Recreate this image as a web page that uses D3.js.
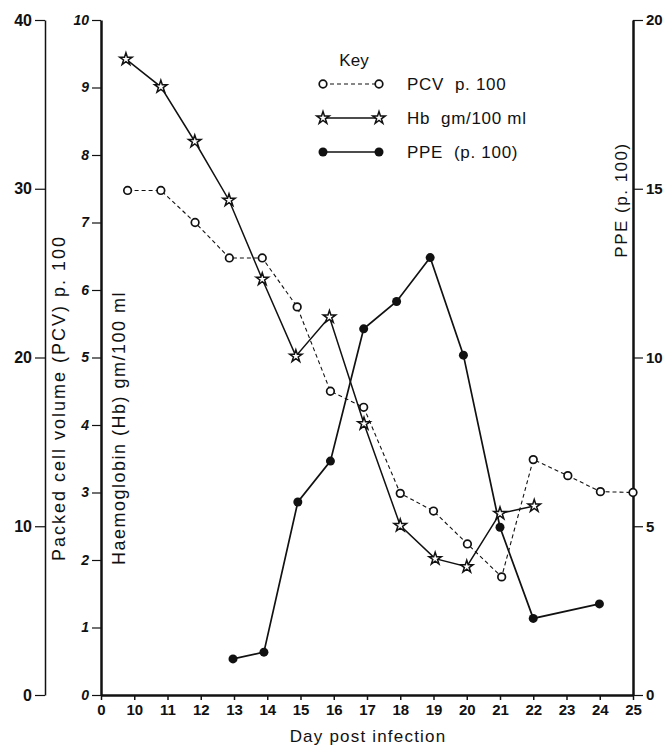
<!DOCTYPE html>
<html>
<head>
<meta charset="utf-8">
<script src="https://d3js.org/d3.v7.min.js"></script>
<style>
  body { margin: 0; background: #fff; }
  svg { display: block; font-family: "Liberation Sans", Arial, sans-serif; }
  .ax path, .ax line { stroke: #111; }
  .ax text { fill: #111; }
</style>
</head>
<body>
<div class="chart"></div>
<script>
// Day post infection (axis is broken: position 9 is labelled "0")
var dayTicks = [9, 10, 11, 12, 13, 14, 15, 16, 17, 18, 19, 20, 21, 22, 23, 24, 25];

// PCV p. 100 (left outer axis)
var pcvDays = [9.8, 10.8, 11.83, 12.86, 13.85, 14.9, 15.9, 16.9, 18, 19, 20.02, 21.05, 22, 23.04, 24.02, 25];
var pcvValues = [29.9, 29.9, 28.0, 25.9, 25.9, 23.0, 18.0, 17.05, 11.95, 10.9, 8.95, 7.0, 13.95, 13.0, 12.05, 12.0];
var pcvTicks = [0, 10, 20, 30, 40];

// Hb gm/100 ml (left inner axis)
var hbDays = [9.75, 10.8, 11.82, 12.85, 13.85, 14.86, 15.87, 16.91, 18, 19.05, 20, 21, 22.03];
var hbValues = [9.42, 9.01, 8.2, 7.33, 6.16, 5.02, 5.6, 4.02, 2.51, 2.02, 1.9, 2.69, 2.8];
var hbTicks = [0, 1, 2, 3, 4, 5, 6, 7, 8, 9, 10];

// PPE (p. 100) (right axis)
var ppeDays = [12.97, 13.9, 14.92, 15.9, 16.9, 17.89, 18.9, 19.9, 21.0, 22.0, 23.99];
var ppeValues = [1.07, 1.27, 5.72, 6.93, 10.85, 11.66, 12.96, 10.07, 4.97, 2.27, 2.7];
var ppeTicks = [0, 5, 10, 15, 20];

var keyLabels = ['PCV  p. 100', 'Hb  gm/100 ml', 'PPE  (p. 100)'];

var w = 669, h = 746;
var plotLeft = 101, plotRight = 633, plotTop = 20, plotBottom = 695;
var pcvAxisX = 45;

var svg = d3.select('.chart').append('svg')
    .attr('width', w)
    .attr('height', h);

var x = d3.scaleLinear().domain([9, 25]).range([plotLeft, plotRight]);
var yPcv = d3.scaleLinear().domain([0, 40]).range([plotBottom, plotTop]);
var yHb = d3.scaleLinear().domain([0, 10]).range([plotBottom, plotTop]);
var yPpe = d3.scaleLinear().domain([0, 20]).range([plotBottom, plotTop]);

// PCV axis
var gPcv = svg.append('g').attr('class', 'ax')
    .attr('transform', 'translate(' + pcvAxisX + ',0)')
    .call(d3.axisLeft(yPcv).tickValues(pcvTicks).tickSize(10).tickSizeOuter(0).tickPadding(3));
gPcv.select('.domain').attr('stroke-width', 1.5);
gPcv.selectAll('.tick line').attr('stroke-width', 1.2);
gPcv.selectAll('text').attr('font-size', 16).attr('font-weight', 'bold')
    .attr('font-family', '"Liberation Sans Narrow", "Liberation Sans", Arial, sans-serif');

// Hb axis
var gHb = svg.append('g').attr('class', 'ax')
    .attr('transform', 'translate(' + plotLeft + ',0)')
    .call(d3.axisLeft(yHb).tickValues(hbTicks).tickSize(9).tickSizeOuter(0).tickPadding(3));
gHb.select('.domain').attr('stroke-width', 2.5);
gHb.selectAll('.tick line').attr('stroke-width', 1.2);
gHb.selectAll('text').attr('font-size', 14).attr('font-weight', 'bold').attr('font-style', 'italic')
    .attr('font-family', '"Liberation Sans Narrow", "Liberation Sans", Arial, sans-serif');

// PPE axis
var gPpe = svg.append('g').attr('class', 'ax')
    .attr('transform', 'translate(' + plotRight + ',0)')
    .call(d3.axisRight(yPpe).tickValues(ppeTicks).tickSize(10).tickSizeOuter(0).tickPadding(3));
gPpe.select('.domain').attr('stroke-width', 2.5);
gPpe.selectAll('.tick line').attr('stroke-width', 1.2);
gPpe.selectAll('text').attr('font-size', 15).attr('font-weight', 'bold');

// Day axis
var gX = svg.append('g').attr('class', 'ax')
    .attr('transform', 'translate(0,' + plotBottom + ')')
    .call(d3.axisBottom(x).tickValues(dayTicks).tickSize(5).tickSizeOuter(0).tickPadding(4)
        .tickFormat(function (d) { return d === 9 ? '0' : d; }));
gX.select('.domain').attr('stroke-width', 2.5);
gX.selectAll('.tick line').attr('stroke-width', 1.5);
gX.selectAll('text').attr('font-size', 15).attr('font-weight', 'bold')
    .attr('font-family', '"Liberation Sans Narrow", "Liberation Sans", Arial, sans-serif');

// Axis titles
svg.append('text')
    .text('Packed cell volume (PCV) p. 100')
    .attr('transform', 'translate(59,398) rotate(-90)')
    .attr('dy', '0.35em')
    .attr('text-anchor', 'middle')
    .attr('font-size', 18)
    .attr('letter-spacing', 2)
    .attr('fill', '#111');

svg.append('text')
    .text('Haemoglobin (Hb) gm/100 ml')
    .attr('transform', 'translate(119,428) rotate(-90)')
    .attr('dy', '0.35em')
    .attr('text-anchor', 'middle')
    .attr('font-size', 18)
    .attr('letter-spacing', 1.5)
    .attr('fill', '#111');

svg.append('text')
    .text('PPE (p. 100)')
    .attr('transform', 'translate(621,200) rotate(-90)')
    .attr('dy', '0.35em')
    .attr('text-anchor', 'middle')
    .attr('font-size', 17)
    .attr('letter-spacing', 1.5)
    .attr('fill', '#111');

svg.append('text')
    .text('Day post infection')
    .attr('x', 368)
    .attr('y', 742)
    .attr('text-anchor', 'middle')
    .attr('font-size', 17)
    .attr('letter-spacing', 1.2)
    .attr('fill', '#111');

var star = d3.symbol().type(d3.symbolStar).size(48);

// PCV line + open circles
var pcvData = d3.zip(pcvDays, pcvValues);
svg.append('path')
    .datum(pcvData)
    .attr('fill', 'none')
    .attr('stroke', '#111')
    .attr('stroke-width', 1.1)
    .attr('stroke-dasharray', '4,3')
    .attr('d', d3.line().x(function (d) { return x(d[0]); }).y(function (d) { return yPcv(d[1]); }));

// Hb line
var hbData = d3.zip(hbDays, hbValues);
svg.append('path')
    .datum(hbData)
    .attr('fill', 'none')
    .attr('stroke', '#111')
    .attr('stroke-width', 1.5)
    .attr('d', d3.line().x(function (d) { return x(d[0]); }).y(function (d) { return yHb(d[1]); }));

// PPE line
var ppeData = d3.zip(ppeDays, ppeValues);
svg.append('path')
    .datum(ppeData)
    .attr('fill', 'none')
    .attr('stroke', '#111')
    .attr('stroke-width', 1.7)
    .attr('d', d3.line().x(function (d) { return x(d[0]); }).y(function (d) { return yPpe(d[1]); }));

svg.selectAll('circle.pcv')
    .data(pcvData)
    .enter()
    .append('circle')
    .attr('class', 'pcv')
    .attr('cx', function (d) { return x(d[0]); })
    .attr('cy', function (d) { return yPcv(d[1]); })
    .attr('r', 3.8)
    .attr('fill', '#fff')
    .attr('stroke', '#111')
    .attr('stroke-width', 1.7);

svg.selectAll('path.hb')
    .data(hbData)
    .enter()
    .append('path')
    .attr('class', 'hb')
    .attr('d', star)
    .attr('transform', function (d) { return 'translate(' + x(d[0]) + ',' + yHb(d[1]) + ')'; })
    .attr('fill', '#fff')
    .attr('stroke', '#111')
    .attr('stroke-width', 1.5);

svg.selectAll('circle.ppe')
    .data(ppeData)
    .enter()
    .append('circle')
    .attr('class', 'ppe')
    .attr('cx', function (d) { return x(d[0]); })
    .attr('cy', function (d) { return yPpe(d[1]); })
    .attr('r', 4.5)
    .attr('fill', '#111');

// Key
var key = svg.append('g');
key.append('text')
    .text('Key')
    .attr('x', 354)
    .attr('y', 66)
    .attr('text-anchor', 'middle')
    .attr('font-size', 17)
    .attr('fill', '#111');

var rows = key.selectAll('g.row')
    .data(keyLabels)
    .enter()
    .append('g')
    .attr('class', 'row')
    .attr('transform', function (d, i) { return 'translate(0,' + (84 + i * 34) + ')'; });

rows.append('line')
    .attr('x1', 323).attr('x2', 379)
    .attr('stroke', '#111')
    .attr('stroke-width', function (d, i) { return i === 0 ? 1.1 : 1.5; })
    .attr('stroke-dasharray', function (d, i) { return i === 0 ? '4,3' : null; });

rows.each(function (d, i) {
    var g = d3.select(this);
    [323, 379].forEach(function (cx) {
        if (i === 0) {
            g.append('circle').attr('cx', cx).attr('r', 3.8)
                .attr('fill', '#fff').attr('stroke', '#111').attr('stroke-width', 1.7);
        } else if (i === 1) {
            g.append('path').attr('d', star).attr('transform', 'translate(' + cx + ',0)')
                .attr('fill', '#fff').attr('stroke', '#111').attr('stroke-width', 1.5);
        } else {
            g.append('circle').attr('cx', cx).attr('r', 4.5).attr('fill', '#111');
        }
    });
});

rows.append('text')
    .text(function (d) { return d; })
    .attr('x', 407)
    .attr('dy', '0.35em')
    .attr('font-size', 17)
    .attr('letter-spacing', 0.7)
    .attr('fill', '#111')
    .style('white-space', 'pre');
</script>
</body>
</html>
